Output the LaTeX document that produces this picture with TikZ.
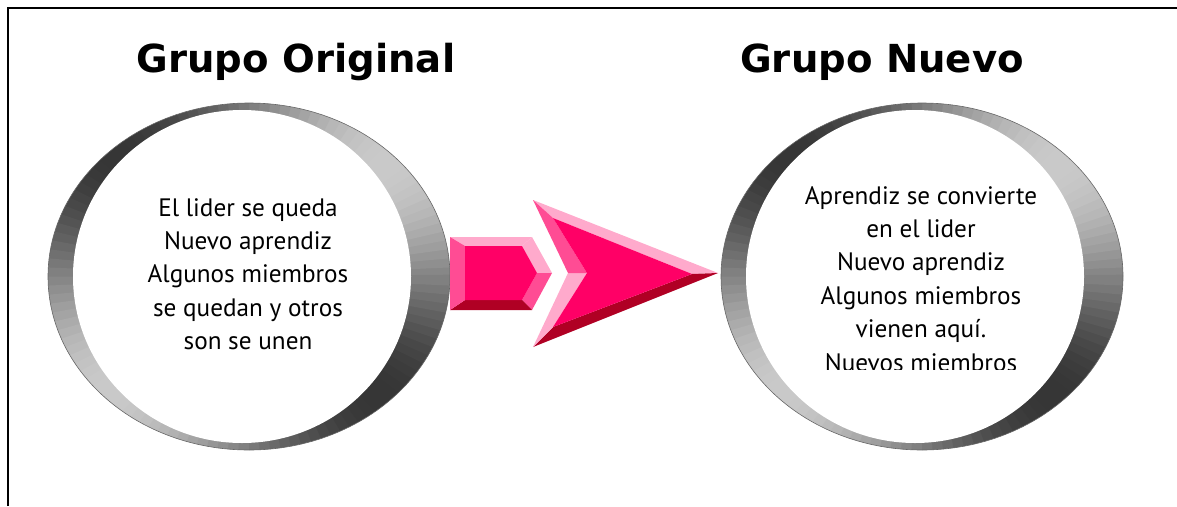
\documentclass[tikz,border=0pt]{standalone}
\usepackage{fontspec}
\setmainfont{PT Sans}
\newfontfamily\titlefont{DejaVu Sans}
\definecolor{pkface}{HTML}{FF0066}
\definecolor{pklight}{HTML}{FFAACC}
\definecolor{pkmid}{HTML}{FF4C94}
\definecolor{pkdark}{HTML}{B00024}
\tikzset{
  title/.style={font=\titlefont\bfseries\fontsize{38.6}{42}\selectfont, inner sep=0pt, anchor=base},
  body/.style={font=\fontsize{25.2}{33.4}\selectfont, align=center, inner sep=0pt},
  ringedge/.style={draw=black!60, line width=0.6pt},
}
\newcommand{\myring}[2]{%
  % #1 = outer centre x, #2 = inner centre x  (y centre 276.5)
  \foreach \a in {0,3,...,357} {
    \pgfmathsetmacro\g{50-29*sin(2*\a+6)}
    \fill[black!\g] (#1,276.5) -- ++(\a:201pt and 173.5pt) -- ++($(\a+1.5:201pt and 173.5pt)-(\a:201pt and 173.5pt)$)
      -- ($(#1,276.5)+(\a+3.6:201pt and 173.5pt)$) -- cycle;
  }
  \draw[ringedge] (#1,276.5) ellipse [x radius=201pt, y radius=173.5pt];
  \fill[white] (#2,276.5) ellipse [x radius=169pt, y radius=166.5pt];
}
\usetikzlibrary{calc}
\begin{document}
\begin{tikzpicture}[x=1pt,y=-1pt]
\useasboundingbox (0,0) rectangle (1177,506);
% frame (top and left edges)
\draw[line width=2pt] (8,506) -- (8,8) -- (1177,8);

% titles
\node[title] (t1) at (296,72) {Grupo Original};
\node[title] (t2) at (882,72) {Grupo Nuevo};

% rings
\myring{249}{242}
\myring{922}{915}

% shaft of the arrow
\coordinate (A) at (450,237); \coordinate (B) at (532,237); \coordinate (C) at (552,273);
\coordinate (D) at (532,310); \coordinate (E) at (450,310);
\coordinate (a) at (465,246); \coordinate (b) at (522,246); \coordinate (c) at (537,273);
\coordinate (d) at (522,300); \coordinate (e) at (465,300);
\fill[pklight] (A) -- (B) -- (b) -- (a) -- cycle;
\fill[pklight] (B) -- (C) -- (c) -- (b) -- cycle;
\fill[pkmid] (C) -- (D) -- (d) -- (c) -- cycle;
\fill[pkdark] (D) -- (E) -- (e) -- (d) -- cycle;
\fill[pkmid] (E) -- (A) -- (a) -- (e) -- cycle;
\fill[pkface] (a) -- (b) -- (c) -- (d) -- (e) -- cycle;

% head of the arrow
\coordinate (P1) at (533,200); \coordinate (T) at (718,273); \coordinate (P2) at (533,347); \coordinate (N) at (568,273);
\coordinate (p1) at (553,218); \coordinate (t) at (692,274); \coordinate (p2) at (553,327); \coordinate (n) at (587,273);
\fill[pklight] (P1) -- (T) -- (t) -- (p1) -- cycle;
\fill[pkdark] (T) -- (P2) -- (p2) -- (t) -- cycle;
\fill[pklight] (P2) -- (N) -- (n) -- (p2) -- cycle;
\fill[pkmid] (N) -- (P1) -- (p1) -- (n) -- cycle;
\fill[pkface] (p1) -- (t) -- (p2) -- (n) -- cycle;

% texts
\node[body, anchor=north] (l1) at (248,198) {El lider se queda\\Nuevo aprendiz\\Algunos miembros\\se quedan y otros\\son se unen};
\begin{scope}
\clip (700,150) rectangle (1150,369);
\node[body, anchor=north] (r1) at (921,186) {Aprendiz se convierte\\en el lider\\Nuevo aprendiz\\Algunos miembros\\vienen aquí.\\Nuevos miembros};
\end{scope}
\end{tikzpicture}
\end{document}
